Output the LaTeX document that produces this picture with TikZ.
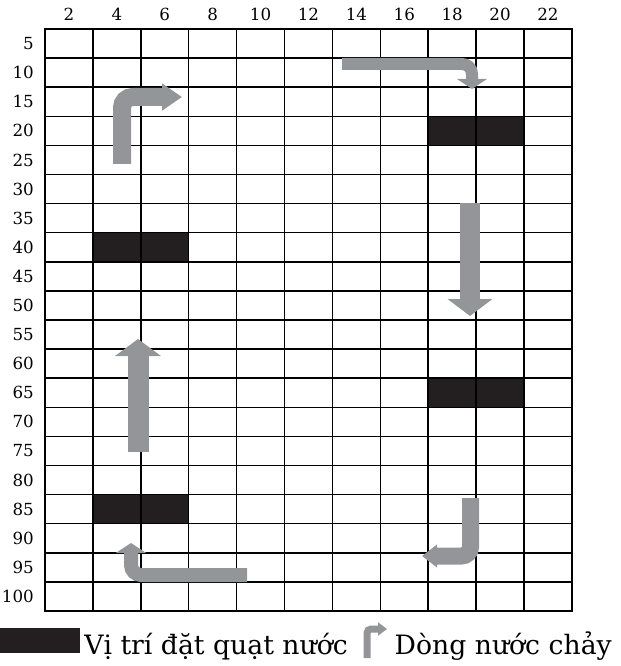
\documentclass[tikz,border=0pt]{standalone}
\usepackage{fontspec}
\setmainfont{DejaVu Serif}
\usetikzlibrary{arrows.meta}
\definecolor{fangray}{RGB}{35,31,32}
\definecolor{flowgray}{RGB}{147,149,153}

\begin{document}
\begin{tikzpicture}[
    x=0.75pt, y=-0.75pt,
    gridline/.style={line width=1.1pt, black, line cap=rect},
    fan/.style={fill=fangray},
    flow/.style={draw=flowgray},
    axislabel/.style={font=\fontsize{12.5}{15}\selectfont, inner sep=0pt},
    legendtext/.style={font=\fontsize{20}{24}\selectfont, inner sep=0pt, anchor=base west}
]
    \useasboundingbox (0,0) rectangle (620,666);

    % Fan positions
    \fill[fan] (428.2,116.3) rectangle (524,145.4);
    \fill[fan] (92.9,232.7) rectangle (188.7,261.8);
    \fill[fan] (428.2,378.2) rectangle (524,407.3);
    \fill[fan] (92.9,494.6) rectangle (188.7,523.7);

    % Grid
    \foreach \i in {0,...,11}
        \draw[gridline] ({45+47.9*\i},29) -- ({45+47.9*\i},611);
    \foreach \j in {0,...,20}
        \draw[gridline] (45,{29+29.1*\j}) -- (572,{29+29.1*\j});

    % Axis labels
    \foreach \i [evaluate=\i as \v using int(2*\i)] in {1,...,11}
        \node[axislabel] (col\i) at ({45+47.9*(\i-0.5)},14) {\v};
    \foreach \j [evaluate=\j as \v using int(5*\j)] in {1,...,20}
        \node[axislabel, anchor=east] (row\j) at (34,{29+29.1*(\j-0.5)}) {\v};

    % Water flow
    \draw[flow, line width=13.5pt, rounded corners=8pt, -{Triangle[length=15pt, width=19.5pt]}]
        (122,164) -- (122,97) -- (182,97);
    \draw[flow, line width=9pt, rounded corners=7.5pt, -{Triangle[length=7.5pt, width=22pt]}]
        (342,64) -- (472,64) -- (472,89);
    \draw[flow, line width=15pt, -{Triangle[length=12.75pt, width=33pt]}]
        (470,203) -- (470,316);
    \draw[flow, line width=12.75pt, rounded corners=6.75pt, -{Triangle[length=11.25pt, width=16.5pt]}]
        (470.5,498) -- (470.5,556) -- (422,556);
    \draw[flow, line width=15.75pt, -{Triangle[length=12.75pt, width=33.75pt]}]
        (138,452) -- (138,339);
    \draw[flow, line width=10.5pt, rounded corners=7.5pt, -{Triangle[length=7.5pt, width=22.5pt]}]
        (247,575) -- (131,575) -- (131,543);

    % Legend
    \fill[fan] (0,628) rectangle (80,653);
    \node[legendtext] (fantext) at (84,654) {Vị trí đặt quạt nước};
    \draw[flow, line width=5.25pt, rounded corners=3pt, -{Triangle[length=6.75pt, width=9.75pt]}]
        (367,658) -- (367,629) -- (387,629);
    \node[legendtext, anchor=base east] (flowtext) at (612,654) {Dòng nước chảy};
\end{tikzpicture}
\end{document}
